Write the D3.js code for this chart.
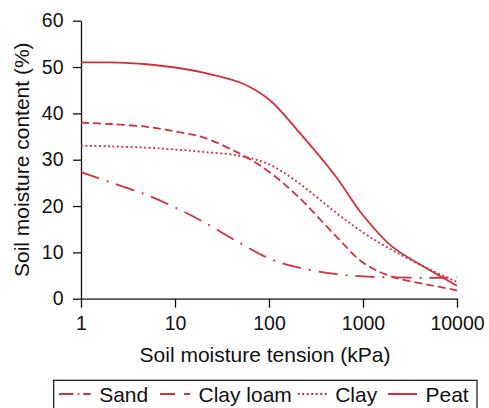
<!DOCTYPE html>
<html>
<head>
<meta charset="utf-8">
<script src="https://cdn.jsdelivr.net/npm/d3@7"></script>
<style>
  body { margin: 0; background: #fff; }
  svg text { font-family: "Liberation Sans", Arial, Helvetica, sans-serif; fill: #111; }
  .axis path, .axis line { stroke: #111; stroke-width: 1.3; }
  .axis text { font-size: 19.5px; }
  .curve { fill: none; stroke: #d52f3b; stroke-width: 1.8; }
</style>
</head>
<body>
<div id="chart"></div>
<script>
// data
const tension = [1, 2, 5, 10, 20, 50, 100, 200, 500, 1000, 2000, 5000, 10000];
const sand     = [27.3, 25.2, 22.4, 19.7, 16.6, 11.9, 8.7, 6.8, 5.35, 4.8, 4.6, 4.5, 4.6];
const clayLoam = [38, 37.7, 37.1, 36.1, 34.8, 31.2, 27.4, 22.2, 13.8, 7.8, 4.8, 3.0, 1.8];
const clay     = [33, 32.9, 32.6, 32.2, 31.7, 30.8, 29, 25.2, 18.8, 14.3, 10.6, 6.4, 3.6];
const peat     = [51, 51, 50.6, 49.9, 48.8, 46.6, 43, 36.4, 26.7, 18, 11.4, 6.3, 2.8];
const seriesNames = ['Sand', 'Clay loam', 'Clay', 'Peat'];
const xTicks = [1, 10, 100, 1000, 10000];
const yTicks = [0, 10, 20, 30, 40, 50, 60];

const width = 489;
const height = 408;
const plot = { left: 81, right: 457, top: 20.7, bottom: 298.7 };

const svg = d3.select('#chart').append('svg').attr('width', width).attr('height', height);

const x = d3.scaleLog().domain([1, 10000]).range([plot.left, plot.right]);
const y = d3.scaleLinear().domain([0, 60]).range([plot.bottom, plot.top]);

// axes
const xAxis = d3.axisBottom(x).tickValues(xTicks).tickFormat(d3.format('d')).tickSize(9).tickSizeOuter(0).tickPadding(8);
const yAxis = d3.axisLeft(y).tickValues(yTicks).tickSize(8).tickSizeOuter(0).tickPadding(9.5);

svg.append('g').attr('class', 'axis').attr('transform', `translate(0,${plot.bottom})`).call(xAxis)
  .call(g => g.selectAll('text').attr('fill', '#111'));
svg.append('g').attr('class', 'axis').attr('transform', `translate(${plot.left},0)`).call(yAxis)
  .call(g => g.selectAll('text').attr('fill', '#111'));

// axis titles
svg.append('text').attr('x', 265).attr('y', 361.5).attr('text-anchor', 'middle')
  .style('font-size', '21px').text('Soil moisture tension (kPa)');
svg.append('text').attr('transform', `translate(28.5,${(plot.top + plot.bottom) / 2}) rotate(-90)`)
  .attr('text-anchor', 'middle').style('font-size', '21px').text('Soil moisture content (%)');

// curves
const dashes = ['19,8,2,8', '8,4', '2,2.5', null];
const values = [sand, clayLoam, clay, peat];
const line = d3.line()
  .x(d => x(d.t))
  .y(d => y(d.v))
  .curve(d3.curveCatmullRom.alpha(0.5));

values.forEach((vals, i) => {
  const pts = tension.map((t, j) => ({ t: t, v: vals[j] }));
  svg.append('path').attr('class', 'curve')
    .attr('d', line(pts))
    .attr('stroke-dasharray', dashes[i]);
});

// legend
const legend = svg.append('g');
legend.append('rect').attr('x', 53.7).attr('y', 380.3).attr('width', 423.3).attr('height', 40)
  .attr('fill', 'none').attr('stroke', '#111').attr('stroke-width', 1.2);

const legendDash = ['14.3,4.4,1.6,4', '15,9', '2,2.5', null];
const legendLineX = [59, 160, 297.7, 388];
const legendLineLen = [31.7, 30, 29, 29];
const legendY = 394;

seriesNames.forEach((name, i) => {
  const x0 = legendLineX[i];
  legend.append('line').attr('x1', x0).attr('x2', x0 + legendLineLen[i])
    .attr('y1', legendY).attr('y2', legendY)
    .attr('stroke', '#d52f3b').attr('stroke-width', 2)
    .attr('stroke-dasharray', legendDash[i]);
  legend.append('text').attr('x', x0 + legendLineLen[i] + 8.5).attr('y', 401.5)
    .style('font-size', '21px').text(name);
});
</script>
</body>
</html>
